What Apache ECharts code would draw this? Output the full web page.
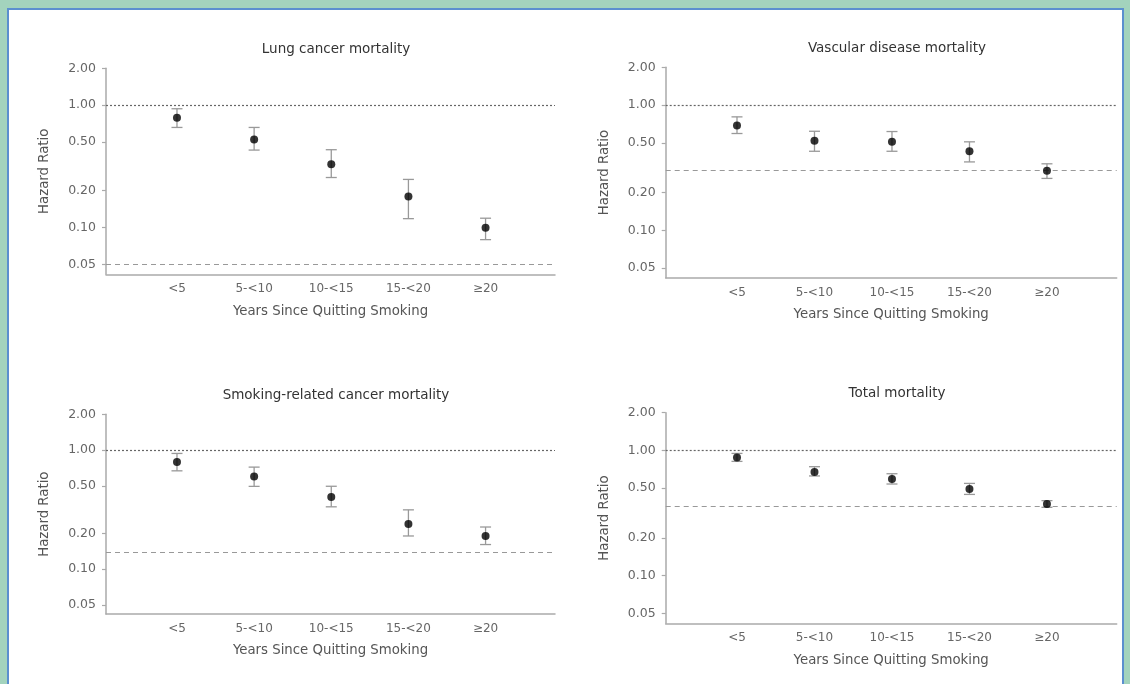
<!DOCTYPE html>
<html><head><meta charset="utf-8">
<script src="https://cdn.jsdelivr.net/npm/echarts@6/dist/echarts.min.js"></script>
<style>
html,body{margin:0;padding:0;width:1130px;height:684px;overflow:hidden;background:#a3d3bd;}
#frame{position:absolute;left:7px;top:8px;width:1113px;height:700px;background:#fff;border:2px solid #5b8fcf;}
#chart{position:absolute;left:0;top:0;width:1130px;height:684px;}
</style></head><body><div id="frame"></div><div id="chart"></div>
<script>
// ---- data ----
const categories = ['<5', '5-<10', '10-<15', '15-<20', '\u226520'];
const yTickValues = [0.05, 0.10, 0.20, 0.50, 1.00, 2.00];
const panelTitles = ['Lung cancer mortality', 'Vascular disease mortality', 'Smoking-related cancer mortality', 'Total mortality'];
const xAxisName = 'Years Since Quitting Smoking';
const yAxisName = 'Hazard Ratio';

const lungHR   = [0.79, 0.524, 0.328, 0.179, 0.0995];
const lungLow  = [0.657, 0.429, 0.256, 0.118, 0.0795];
const lungHigh = [0.934, 0.657, 0.432, 0.247, 0.119];

const vascHR   = [0.686, 0.518, 0.509, 0.428, 0.299];
const vascLow  = [0.593, 0.428, 0.428, 0.352, 0.26];
const vascHigh = [0.805, 0.618, 0.615, 0.509, 0.34];

const smokHR   = [0.793, 0.601, 0.403, 0.24, 0.19];
const smokLow  = [0.67, 0.496, 0.334, 0.19, 0.161];
const smokHigh = [0.938, 0.72, 0.497, 0.315, 0.226];

const totHR    = [0.879, 0.672, 0.591, 0.492, 0.373];
const totLow   = [0.817, 0.625, 0.539, 0.445, 0.351];
const totHigh  = [0.946, 0.741, 0.651, 0.545, 0.397];

const nullLine = 1.00;
const neverSmokerLines = [0.05, 0.30, 0.14, 0.36];

// ---- layout ----
const panels = [
  {hr: lungHR, low: lungLow, high: lungHigh, grid: {left: 106, top: 68.3, width: 449, height: 206}, yMin: 0.0414, titleX: 331, titleY: 37.5},
  {hr: vascHR, low: vascLow, high: vascHigh, grid: {left: 665.7, top: 67.3, width: 451, height: 210.4}, yMin: 0.042, titleX: 892, titleY: 36},
  {hr: smokHR, low: smokLow, high: smokHigh, grid: {left: 106, top: 414.3, width: 449, height: 199.7}, yMin: 0.042, titleX: 331, titleY: 383.5},
  {hr: totHR, low: totLow, high: totHigh, grid: {left: 665.7, top: 412.7, width: 451, height: 210.6}, yMin: 0.0416, titleX: 892, titleY: 381}
];

const FONT = 'DejaVu Sans';
const option = {
  backgroundColor: 'transparent',
  animation: false,
  textStyle: {fontFamily: FONT},
  title: [], grid: [], xAxis: [], yAxis: [], series: []
};

panels.forEach((p, i) => {
  option.title.push({
    text: panelTitles[i], left: p.titleX, top: p.titleY, textAlign: 'center',
    textStyle: {fontFamily: FONT, fontSize: 13.5, fontWeight: 'normal', color: '#333'}
  });
  option.grid.push(Object.assign({containLabel: false}, p.grid));
  option.xAxis.push({
    type: 'value', gridIndex: i, min: -0.92, max: 4.9,
    name: xAxisName, nameLocation: 'middle', nameGap: 30.5,
    nameTextStyle: {fontFamily: FONT, fontSize: 13.3, color: '#555'},
    axisLine: {show: true, onZero: false, lineStyle: {color: '#aaa', width: 1.5}},
    axisTick: {show: false},
    splitLine: {show: false},
    axisLabel: {
      customValues: [0, 1, 2, 3, 4], margin: 9,
      formatter: v => categories[Math.round(v)] || '',
      fontFamily: FONT, fontSize: 12, color: '#666'
    }
  });
  option.yAxis.push({
    type: 'log', logBase: 10, gridIndex: i, min: p.yMin, max: 2,
    name: yAxisName, nameLocation: 'middle', nameGap: 55,
    nameTextStyle: {fontFamily: FONT, fontSize: 13.3, color: '#555'},
    axisLine: {show: true, onZero: false, lineStyle: {color: '#aaa', width: 1.5}},
    axisTick: {show: true, length: 4, customValues: yTickValues, lineStyle: {color: '#aaa', width: 1.2}},
    splitLine: {show: false},
    minorTick: {show: false},
    axisLabel: {
      customValues: yTickValues, margin: 10,
      formatter: v => Number(v).toFixed(2),
      fontFamily: FONT, fontSize: 12.5, color: '#666'
    }
  });
  // error bars
  option.series.push({
    type: 'custom', xAxisIndex: i, yAxisIndex: i, silent: true, z: 3,
    data: p.hr.map((v, k) => [k, p.low[k], p.high[k]]),
    renderItem: (params, api) => {
      const x = api.value(0);
      const lo = api.coord([x, api.value(1)]);
      const hi = api.coord([x, api.value(2)]);
      const cw = 5.5;
      const st = {stroke: '#999', lineWidth: 1.3, fill: null};
      return {type: 'group', children: [
        {type: 'line', shape: {x1: lo[0], y1: lo[1], x2: hi[0], y2: hi[1]}, style: st},
        {type: 'line', shape: {x1: lo[0] - cw, y1: lo[1], x2: lo[0] + cw, y2: lo[1]}, style: st},
        {type: 'line', shape: {x1: hi[0] - cw, y1: hi[1], x2: hi[0] + cw, y2: hi[1]}, style: st}
      ]};
    }
  });
  // points + reference lines
  option.series.push({
    type: 'scatter', xAxisIndex: i, yAxisIndex: i, z: 5,
    symbol: 'circle', symbolSize: 8,
    itemStyle: {color: '#000'},
    data: p.hr.map((v, k) => [k, v]),
    markLine: {
      silent: true, symbol: 'none', animation: false,
      label: {show: false},
      data: [
        {yAxis: nullLine, lineStyle: {type: [2, 2], color: '#666', width: 1.2}},
        {yAxis: neverSmokerLines[i], lineStyle: {type: [5, 4], color: '#999', width: 1.2}}
      ]
    }
  });
});

const chart = echarts.init(document.getElementById('chart'), null, {renderer: 'canvas'});
chart.setOption(option);
</script>
</body></html>
